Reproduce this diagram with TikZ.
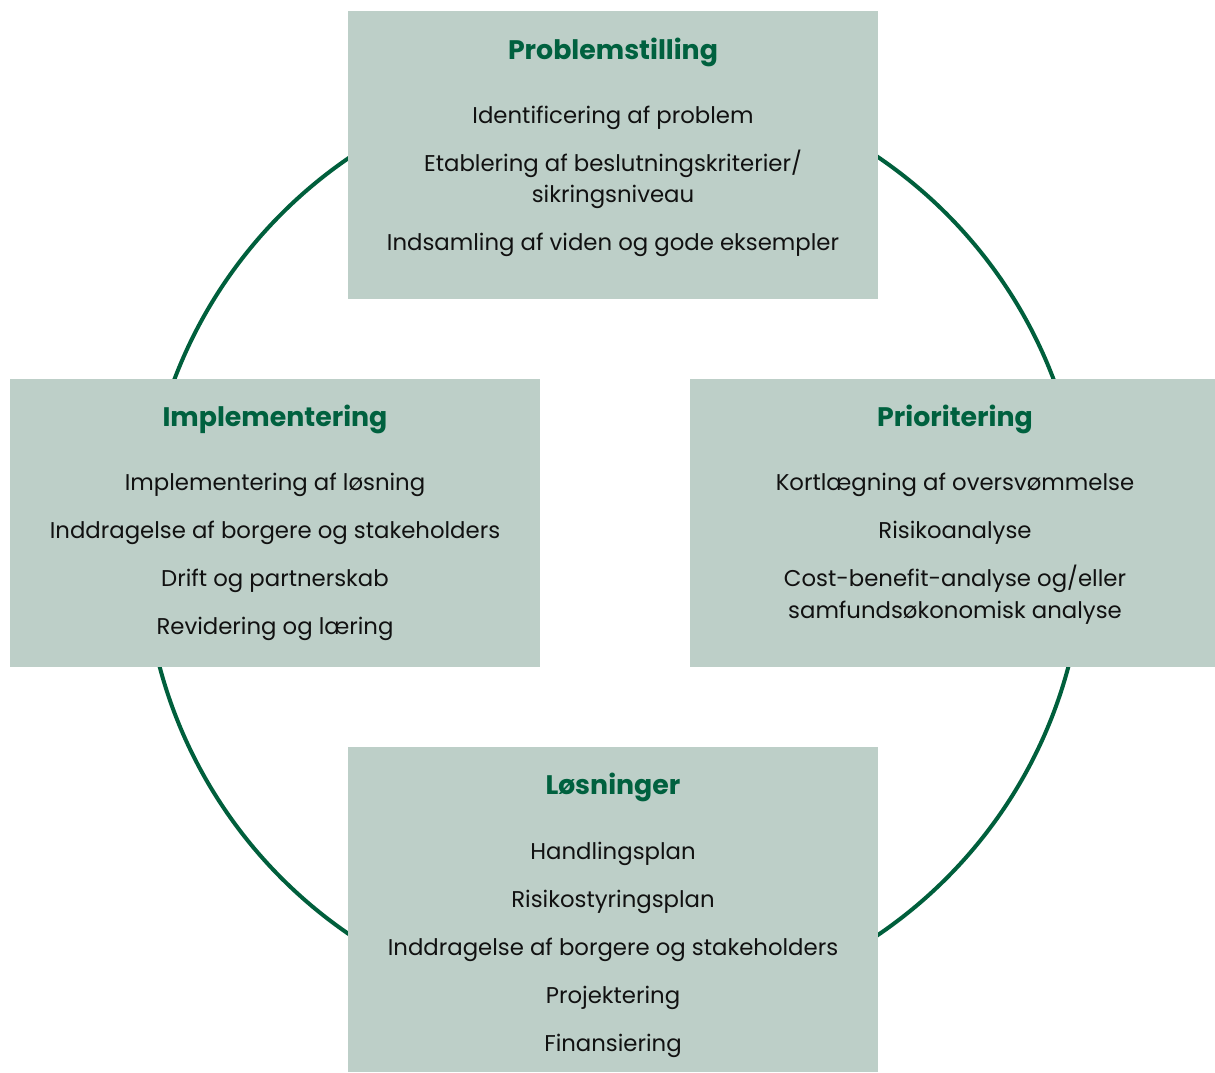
\documentclass[tikz,border=0pt]{standalone}
\usepackage{fontspec}
\setmainfont{Poppins}
\definecolor{boxfill}{HTML}{BDCFC8}
\definecolor{ttlgreen}{HTML}{00613F}
\definecolor{ringgreen}{HTML}{005F3C}
\definecolor{txtblack}{HTML}{111111}
\begin{document}
\begin{tikzpicture}[x=1pt,y=-1pt,
  boxshape/.style={fill=boxfill, draw=none, inner sep=0pt, anchor=north west, rectangle},
  ttl/.style={font=\bfseries\fontsize{26.8}{30}\selectfont, text=ttlgreen, anchor=base, inner sep=0pt},
  itm/.style={font=\fontsize{22.8}{26}\selectfont, text=txtblack, anchor=base, inner sep=0pt},
  ring/.style={draw=ringgreen, line width=4pt}]
\useasboundingbox (0,0) rectangle (1215,1072);
\draw[ring] (614,546) circle[radius=470];
% boxes
\node[boxshape, minimum width=530pt, minimum height=288pt] (pbox) at (348,11) {};
\node[boxshape, minimum width=530pt, minimum height=288pt] (ibox) at (10,379) {};
\node[boxshape, minimum width=525pt, minimum height=288pt] (rbox) at (690,379) {};
\node[boxshape, minimum width=530pt, minimum height=325pt] (lbox) at (348,747) {};
% top
\node[ttl] (pt) at (613,59) {Problemstilling};
\node[itm] (p1) at (613,123) {Identificering af problem};
\node[itm] (p2) at (613,171) {Etablering af beslutningskriterier/};
\node[itm] (p3) at (613,202) {sikringsniveau};
\node[itm] (p4) at (613,250) {Indsamling af viden og gode eksempler};
% left
\node[ttl] (it) at (275,426) {Implementering};
\node[itm] (i1) at (275,490) {Implementering af løsning};
\node[itm] (i2) at (275,538) {Inddragelse af borgere og stakeholders};
\node[itm] (i3) at (275,586) {Drift og partnerskab};
\node[itm] (i4) at (275,634) {Revidering og læring};
% right
\node[ttl] (rt) at (955,426) {Prioritering};
\node[itm] (r1) at (955,490) {Kortlægning af oversvømmelse};
\node[itm] (r2) at (955,538) {Risikoanalyse};
\node[itm] (r3) at (955,586) {Cost-benefit-analyse og/eller};
\node[itm] (r4) at (955,618) {samfundsøkonomisk analyse};
% bottom
\node[ttl] (lt) at (613,794) {Løsninger};
\node[itm] (l1) at (613,859) {Handlingsplan};
\node[itm] (l2) at (613,907) {Risikostyringsplan};
\node[itm] (l3) at (613,955) {Inddragelse af borgere og stakeholders};
\node[itm] (l4) at (613,1003) {Projektering};
\node[itm] (l5) at (613,1051) {Finansiering};
\end{tikzpicture}
\end{document}
